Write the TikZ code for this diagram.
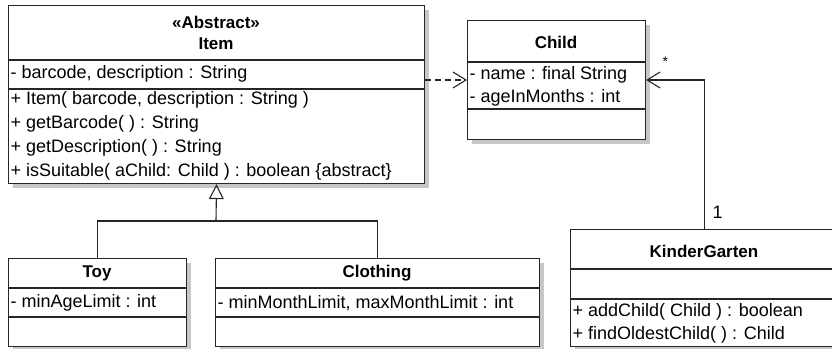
\documentclass[tikz,border=0pt]{standalone}
\usepackage{fontspec}
\setmainfont{Liberation Sans}
\usetikzlibrary{arrows.meta,shadows}

\begin{document}
\begin{tikzpicture}[
                x=1pt, y=-1pt,
                line width=1.1pt,
                classbox/.style={draw=black!85, rectangle, fill=white, anchor=north west, inner sep=0pt,
                        drop shadow={shadow xshift=4pt, shadow yshift=-4pt, fill=black!22, opacity=1}},
                title/.style={inner sep=0pt, font=\bfseries\fontsize{17}{20}\selectfont},
                member/.style={anchor=west, inner sep=0pt, font=\fontsize{18}{22}\selectfont},
                sep/.style={draw=black!85},
                open/.style={-{Straight Barb[length=13pt,width=16pt]}},
                inherit/.style={-{Triangle[open,length=15pt,width=15pt]}}
            ]
            \useasboundingbox (0,0) rectangle (832,348);

            % Item
            \node[classbox, minimum width=416pt, minimum height=178pt] (item) at (8,5) {};
            \draw[sep] (8,60) -- (424,60);
            \draw[sep] (8,89) -- (424,89);
            \node[title] (itemstereo) at (216,22) {«Abstract»};
            \node[title] (itemname) at (216,44) {Item};
            \node[member] (itemattr) at (10,74) {- barcode, description : String};
            \node[member] (itemop1) at (10,100) {+ Item( barcode, description : String )};
            \node[member] (itemop2) at (10,124) {+ getBarcode( ) : String};
            \node[member] (itemop3) at (10,148) {+ getDescription( ) : String};
            \node[member] (itemop4) at (10,172) {+ isSuitable( aChild: Child ) : boolean \{abstract\}};

            % Child
            \node[classbox, minimum width=178pt, minimum height=119pt] (child) at (467,20) {};
            \draw[sep] (467,62) -- (645,62);
            \draw[sep] (467,109) -- (645,109);
            \node[title] (childname) at (556,42) {Child};
            \node[member] (childattr1) at (469,75) {- name : final String};
            \node[member] (childattr2) at (469,98) {- ageInMonths : int};

            % Toy
            \node[classbox, minimum width=178pt, minimum height=88pt] (toy) at (8,258) {};
            \draw[sep] (8,288) -- (186,288);
            \draw[sep] (8,317) -- (186,317);
            \node[title] (toyname) at (97,273) {Toy};
            \node[member] (toyattr) at (10,303) {- minAgeLimit : int};

            % Clothing
            \node[classbox, minimum width=324pt, minimum height=88pt] (clothing) at (215,258) {};
            \draw[sep] (215,288) -- (539,288);
            \draw[sep] (215,317) -- (539,317);
            \node[title] (clothingname) at (377,273) {Clothing};
            \node[member] (clothingattr) at (217,303) {- minMonthLimit, maxMonthLimit : int};

            % KinderGarten (runs past the right edge)
            \node[classbox, minimum width=268pt, minimum height=117pt] (kg) at (570,229) {};
            \draw[sep] (570,269) -- (838,269);
            \draw[sep] (570,299) -- (838,299);
            \node[title] (kgname) at (704,251) {KinderGarten};
            \node[member] (kgop1) at (572,312) {+ addChild( Child ) : boolean};
            \node[member] (kgop2) at (572,335) {+ findOldestChild( ) : Child};

            % connectors
            \draw[open, dash pattern=on 6pt off 4pt, draw=black!85] (item.east |- 0,80) -- (child.west |- 0,80);
            \draw[open, draw=black!85] (kg.north) |- (child.east |- 0,80);
            \node[member] (multone) at (712,212) {1};
            \node[member, font=\fontsize{14}{16}\selectfont] (multmany) at (662,62) {*};

            \coordinate (gen) at (216,221);
            \draw[inherit, draw=black!85] (gen) -- (item.south);
            \draw[draw=black!85] (toy.north) |- (gen) -| (clothing.north);

        \end{tikzpicture}
\end{document}
